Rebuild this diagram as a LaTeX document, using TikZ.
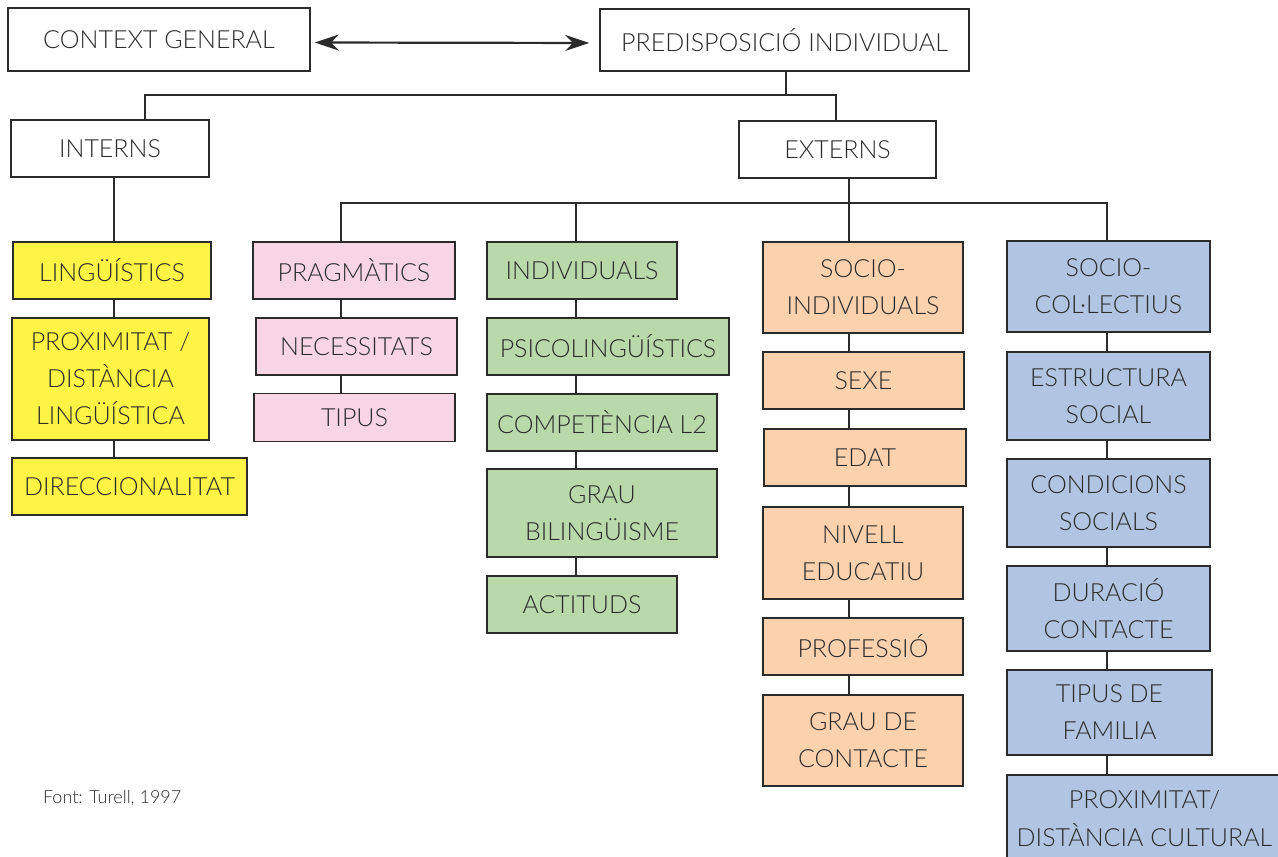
\documentclass[tikz,border=0pt]{standalone}
\usepackage{fontspec}
\setmainfont{Lato}[UprightFont=* Light]
\usetikzlibrary{arrows.meta}
\definecolor{lingyellow}{HTML}{FFF345}
\definecolor{pragpink}{HTML}{F8D5E5}
\definecolor{indgreen}{HTML}{B9D9AA}
\definecolor{sociorange}{HTML}{FCD1AE}
\definecolor{colblue}{HTML}{B1C5E2}
\definecolor{inkgray}{HTML}{2B2B2B}
\tikzset{
  box/.style={draw=inkgray, line width=0.8pt, text=inkgray, align=center,
    inner sep=0pt, font=\fontsize{12.5}{18.5}\selectfont},
  link/.style={draw=inkgray, line width=0.6pt}
}
\def\plainbox{\node[box,fill=white]}
\def\lingbox{\node[box,fill=lingyellow]}
\def\pragbox{\node[box,fill=pragpink]}
\def\indbox{\node[box,fill=indgreen]}
\def\socibox{\node[box,fill=sociorange]}
\def\colbox{\node[box,fill=colblue]}

\begin{document}
\begin{tikzpicture}[x=0.5pt,y=-0.5pt]
\clip (0,0) rectangle (1278,856);
\fill[white] (0,0) rectangle (1278,856);
% top level
\plainbox[minimum width=151pt,minimum height=31.5pt] (context) at (159,39.5) {CONTEXT GENERAL};
\plainbox[minimum width=184.5pt,minimum height=31pt] (pred) at (784.5,40) {PREDISPOSICIÓ INDIVIDUAL};
\draw[line width=1.1pt, draw=inkgray, {Stealth[length=12pt,width=8pt]}-{Stealth[length=12pt,width=8pt]}, shorten <=2pt, shorten >=5pt]
  ([yshift=-1.5pt]context.east) -- ([yshift=-1.5pt]pred.west);
\plainbox[minimum width=99pt,minimum height=28.5pt] (interns) at (110,148.5) {INTERNS};
\plainbox[minimum width=98.5pt,minimum height=28.5pt] (externs) at (837.5,149.5) {EXTERNS};
\coordinate (tbar) at (786,95);
\coordinate (ijoin) at (145,95);
\coordinate (ejoin) at (836,95);
\draw[link] (pred.south -| tbar) -- (tbar);
\draw[link] (interns.north -| ijoin) -- (ijoin) -- (ejoin) -- (externs.north -| ejoin);
% columns
\coordinate (ys) at (114,0);
\coordinate (ps) at (341,0);
\coordinate (gs) at (576,0);
\coordinate (os) at (849,0);
\coordinate (bs) at (1107,0);
\coordinate (xjoin) at (849,203);
% interns
\lingbox[minimum width=99pt,minimum height=28.5pt] (ling) at (112,270.5) {LINGÜÍSTICS};
\lingbox[minimum width=98.5pt,minimum height=61pt] (prox) at (110.5,379) {PROXIMITAT /\\DISTÀNCIA\\LINGÜÍSTICA};
\lingbox[minimum width=117.5pt,minimum height=28.5pt] (direc) at (129.5,486.5) {DIRECCIONALITAT};
\draw[link] (interns.south -| ys) -- (ling.north -| ys);
\draw[link] (ling.south -| ys) -- (prox.north -| ys);
\draw[link] (prox.south -| ys) -- (direc.north -| ys);
% pragmatics
\pragbox[minimum width=101pt,minimum height=28.5pt] (prag) at (354,270.5) {PRAGMÀTICS};
\pragbox[minimum width=100.5pt,minimum height=28.5pt] (neces) at (356.5,346.5) {NECESSITATS};
\pragbox[minimum width=100.5pt,minimum height=24pt] (tipus) at (354.5,417.5) {TIPUS};
\draw[link] (prag.south -| ps) -- (neces.north -| ps);
\draw[link] (neces.south -| ps) -- (tipus.north -| ps);
% individuals
\indbox[minimum width=95pt,minimum height=28.5pt] (indiv) at (582,270.5) {INDIVIDUALS};
\indbox[minimum width=121pt,minimum height=28.5pt] (psico) at (608,346.5) {PSICOLINGÜÍSTICS};
\indbox[minimum width=115pt,minimum height=28.5pt] (compet) at (602,422.5) {COMPETÈNCIA L2};
\indbox[minimum width=115pt,minimum height=44pt] (bilin) at (602,513) {GRAU\\BILINGÜISME};
\indbox[minimum width=95pt,minimum height=28.5pt] (actit) at (582,604.5) {ACTITUDS};
\draw[link] (indiv.south -| gs) -- (psico.north -| gs);
\draw[link] (psico.south -| gs) -- (compet.north -| gs);
\draw[link] (compet.south -| gs) -- (bilin.north -| gs);
\draw[link] (bilin.south -| gs) -- (actit.north -| gs);
% socio-individuals
\socibox[minimum width=100pt,minimum height=45.5pt] (socind) at (863,287.5) {SOCIO-\\INDIVIDUALS};
\socibox[minimum width=100.5pt,minimum height=28.5pt] (sexe) at (863.5,380.5) {SEXE};
\socibox[minimum width=101pt,minimum height=28.5pt] (edat) at (865,457.5) {EDAT};
\socibox[minimum width=100pt,minimum height=46pt] (nivell) at (863,553) {NIVELL\\EDUCATIU};
\socibox[minimum width=100pt,minimum height=28.5pt] (profes) at (863,646.5) {PROFESSIÓ};
\socibox[minimum width=100pt,minimum height=45.5pt] (contac) at (863,740.5) {GRAU DE\\CONTACTE};
\draw[link] (socind.south -| os) -- (sexe.north -| os);
\draw[link] (sexe.south -| os) -- (edat.north -| os);
\draw[link] (edat.south -| os) -- (nivell.north -| os);
\draw[link] (nivell.south -| os) -- (profes.north -| os);
\draw[link] (profes.south -| os) -- (contac.north -| os);
% socio-col.lectius
\colbox[minimum width=101.5pt,minimum height=45.5pt] (socol) at (1108.5,286.5) {SOCIO-\\COL·LECTIUS};
\colbox[minimum width=101.5pt,minimum height=44pt] (estru) at (1108.5,396) {ESTRUCTURA\\SOCIAL};
\colbox[minimum width=101.5pt,minimum height=44pt] (condi) at (1108.5,503) {CONDICIONS\\SOCIALS};
\colbox[minimum width=101.5pt,minimum height=42.5pt] (durac) at (1108.5,608.5) {DURACIÓ\\CONTACTE};
\colbox[minimum width=102.5pt,minimum height=42.5pt] (famil) at (1109.5,712.5) {TIPUS DE\\FAMILIA};
\colbox[minimum width=137.5pt,minimum height=43.5pt] (cultu) at (1144.5,818.5) {PROXIMITAT/\\DISTÀNCIA CULTURAL};
\draw[link] (socol.south -| bs) -- (estru.north -| bs);
\draw[link] (estru.south -| bs) -- (condi.north -| bs);
\draw[link] (condi.south -| bs) -- (durac.north -| bs);
\draw[link] (durac.south -| bs) -- (famil.north -| bs);
\draw[link] (famil.south -| bs) -- (cultu.north -| bs);
% externs fan-out
\draw[link] (externs.south -| xjoin) -- (xjoin);
\draw[link] (prag.north -| ps) -- (ps |- xjoin) -- (bs |- xjoin) -- (socol.north -| bs);
\draw[link] (indiv.north -| gs) -- (gs |- xjoin);
\draw[link] (socind.north -| os) -- (os |- xjoin);
% source
\node[anchor=west, text=inkgray, font=\fontsize{9}{11}\selectfont] (source) at (36,798) {Font: Turell, 1997};
\end{tikzpicture}
\end{document}
